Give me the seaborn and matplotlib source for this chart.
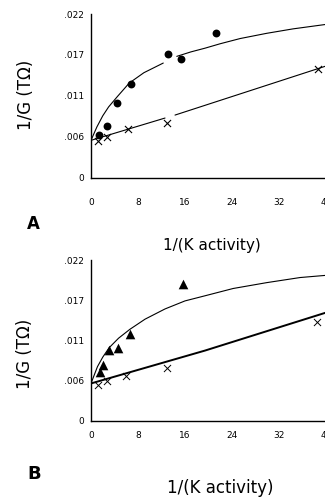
import matplotlib
matplotlib.use("Agg")
import matplotlib.pyplot as plt
import seaborn as sns
import pandas as pd

# ---------------- data ----------------
# Panel A
a_dot_x = [1.41, 2.77, 4.48, 6.75, 13.16, 15.3, 21.3]
a_dot_y = [0.00572, 0.00697, 0.00998, 0.01258, 0.01662, 0.0159, 0.01948]
a_cross_x = [1.24, 2.77, 6.35, 12.9, 38.7]
a_cross_y = [0.00491, 0.00541, 0.00649, 0.00729, 0.01456]
a_upper_x = [0.0, 0.5, 1.0, 2.0, 3.0, 4.5, 6.5, 9.0, 12.3,
             14.6, 17.0, 19.4, 22.0, 25.4, 29.9, 34.4, 40.0]
a_upper_y = [0.0050, 0.0059, 0.0068, 0.0083, 0.0095, 0.0109, 0.0127, 0.0141, 0.0154,
             0.0163, 0.0169, 0.0174, 0.0180, 0.0187, 0.0194, 0.0200, 0.0206]
a_upper_seg = [0] * 9 + [1] * 8
a_lower_x = [0.0, 12.6, 14.3, 40.0]
a_lower_y = [0.0050, 0.0080, 0.0084, 0.0150]
a_lower_seg = [0, 0, 1, 1]

# Panel B
b_tri_x = [1.53, 1.99, 3.06, 4.54, 6.64, 15.6]
b_tri_y = [0.00663, 0.00762, 0.00968, 0.00999, 0.01183, 0.01867]
b_cross_x = [1.13, 2.77, 5.9, 12.9, 38.5]
b_cross_y = [0.00489, 0.00543, 0.00616, 0.00717, 0.01355]
b_upper_x = [0.0, 1.1, 2.0, 3.1, 4.7, 6.6, 9.2, 12.6, 16.0, 19.4, 24.2, 29.9, 35.6, 40.0]
b_upper_y = [0.0051, 0.0074, 0.0087, 0.0100, 0.0113, 0.0125, 0.0139, 0.0153, 0.0164,
             0.0171, 0.0181, 0.0189, 0.0196, 0.0199]
b_lower_x = [0.0, 19.4, 40.0]
b_lower_y = [0.0051, 0.0096, 0.0148]

x_ticks = [0, 8, 16, 24, 32, 40]
x_ticklabels = ["0", "8", "16", "24", "32", "40"]
y_ticks = [0, 0.0055, 0.011, 0.0165, 0.022]
y_ticklabels = ["0", ".006", ".011", ".017", ".022"]

xlabel = "1/(K activity)"
ylabel = "1/G (T\u03a9)"

# ---------------- figure ----------------
sns.set_theme(style="white")
plt.rcParams["font.family"] = ["DejaVu Sans"]
plt.rcParams["text.color"] = "black"
plt.rcParams["axes.labelcolor"] = "black"

W, H = 325, 501
fig = plt.figure(figsize=(W / 100, H / 100), dpi=100)

axA = fig.add_axes([91 / W, (H - 177.5) / H, 235 / W, 163.5 / H])
axB = fig.add_axes([91 / W, (H - 420.7) / H, 235 / W, 160.7 / H])

# Panel A
dfA_up = pd.DataFrame({"x": a_upper_x, "y": a_upper_y, "seg": a_upper_seg})
dfA_lo = pd.DataFrame({"x": a_lower_x, "y": a_lower_y, "seg": a_lower_seg})
sns.lineplot(data=dfA_up, x="x", y="y", units="seg", estimator=None,
             color="black", lw=0.8, ax=axA, sort=False)
sns.lineplot(data=dfA_lo, x="x", y="y", units="seg", estimator=None,
             color="black", lw=0.8, ax=axA, sort=False)
sns.scatterplot(x=a_dot_x, y=a_dot_y, marker="o", s=32, color="black",
                linewidth=0, ax=axA, zorder=3)
sns.scatterplot(x=a_cross_x, y=a_cross_y, marker="x", s=26, color="black",
                linewidth=0.8, ax=axA, zorder=3)

# Panel B
dfB_up = pd.DataFrame({"x": b_upper_x, "y": b_upper_y})
dfB_lo = pd.DataFrame({"x": b_lower_x, "y": b_lower_y})
sns.lineplot(data=dfB_up, x="x", y="y", estimator=None, color="black",
             lw=0.8, ax=axB, sort=False)
sns.lineplot(data=dfB_lo, x="x", y="y", estimator=None, color="black",
             lw=1.4, ax=axB, sort=False)
sns.scatterplot(x=b_tri_x, y=b_tri_y, marker="^", s=48, color="black",
                linewidth=0, ax=axB, zorder=3)
sns.scatterplot(x=b_cross_x, y=b_cross_y, marker="x", s=26, color="black",
                linewidth=0.7, ax=axB, zorder=3)

for ax, xpad in ((axA, 12), (axB, 5)):
    ax.set_xlim(0, 40)
    ax.set_ylim(0, 0.022)
    ax.set_xticks(x_ticks)
    ax.set_xticklabels(x_ticklabels)
    ax.set_yticks(y_ticks)
    ax.set_yticklabels(y_ticklabels)
    for s in ("top", "right"):
        ax.spines[s].set_visible(False)
    for s in ("left", "bottom"):
        ax.spines[s].set_color("black")
        ax.spines[s].set_linewidth(1.0)
    ax.tick_params(axis="both", which="both", direction="out", length=2.5,
                   width=0.8, color="black", labelsize=6.5, labelcolor="black")
    ax.tick_params(axis="x", pad=xpad)
    ax.tick_params(axis="y", pad=2.5)
    ax.set_facecolor("white")

axA.set_xlabel(xlabel, fontsize=11, va="center")
axA.xaxis.set_label_coords(0.515, -0.413)
axA.set_ylabel(ylabel, fontsize=12, va="center")
axA.yaxis.set_label_coords(-0.277, 0.505)

axB.set_xlabel(xlabel, fontsize=12, va="center")
axB.xaxis.set_label_coords(0.55, -0.42)
axB.set_ylabel(ylabel, fontsize=12, va="center")
axB.yaxis.set_label_coords(-0.281, 0.415)

fig.text(33 / W, 1 - 224 / H, "A", ha="center", va="center",
         fontsize=12, fontweight="bold")
fig.text(34 / W, 1 - 474 / H, "B", ha="center", va="center",
         fontsize=13, fontweight="bold")

fig.savefig("out.png", dpi=100, facecolor="white")
